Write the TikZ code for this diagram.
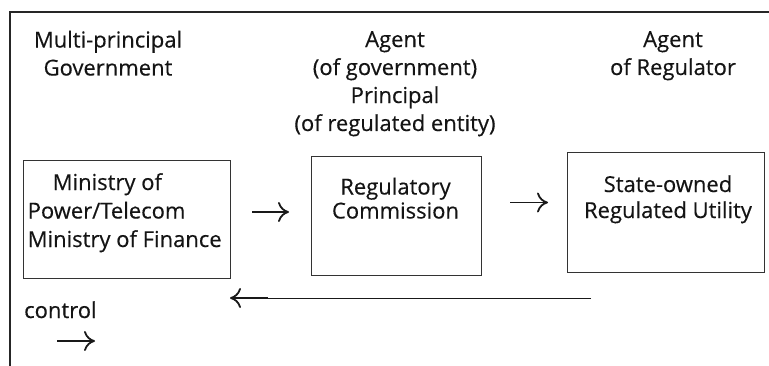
\documentclass[tikz,border=0pt]{standalone}
\usepackage{fontspec}
\setmainfont{Open Sans}
\newfontfamily\lblfont{Open Sans}[FakeBold=0.35]
\usetikzlibrary{arrows.meta,calc}
\begin{document}
\begin{tikzpicture}[x=1pt,y=1pt,
  lbl/.style={font=\lblfont\fontsize{22}{28}\selectfont, inner sep=0pt, text=black!92, align=center, anchor=base},
  boxnode/.style={draw=black!80, line width=1pt, inner sep=0pt, anchor=south west},
  arr/.style={line width=1.8pt, draw=black!90, -{To[length=11pt,width=20pt]}},
]
\useasboundingbox (0,0) rectangle (769,365);
% cropped outer frame
\coordinate (fbl) at (10,-2);
\coordinate (ftl) at (10,353.3);
\coordinate (ftr) at (771,353.3);
\draw[line width=2.2pt, black!85] (fbl) -- (ftl) -- (ftr);

% boxes
\node[boxnode, minimum width=207.3pt, minimum height=118pt] (box1) at (22.7,86) {};
\node[boxnode, minimum width=170.5pt, minimum height=119pt] (box2) at (310.5,89) {};
\node[boxnode, minimum width=197.3pt, minimum height=120pt] (box3) at (566.7,92) {};

% headings (anchor base = baseline of last line)
\node[lbl] (hgov) at (108,289.5) {Multi-principal\\Government};
\node[lbl] (hreg) at (395,234) {Agent\\(of government)\\Principal\\(of regulated entity)};
\node[lbl] (hutil) at (673,290) {Agent\\of Regulator};

% box texts
\node[lbl, align=left, anchor=base west, font=\lblfont\fontsize{22}{28.5}\selectfont] (t1) at (27.5,118) {\hspace*{25pt}Ministry of\\Power/Telecom\\Ministry of Finance};
\node[lbl, font=\lblfont\fontsize{22}{24}\selectfont] (t2) at (395.5,146.5) {Regulatory\\Commission};
\node[lbl, font=\lblfont\fontsize{22}{26}\selectfont] (t3) at (668,147) {State-owned\\Regulated Utility};

% control label
\node[lbl, anchor=base west] (ctl) at (24,47) {control};

% arrows
\draw[arr] ($(box1.east)+(21,7.5)$) -- ($(box2.west)+(-21.5,4)$);
\draw[arr] ($(box2.east)+(28,13.5)$) -- ($(box3.west)+(-18.7,10)$);

\coordinate (ltail) at (591,67);
\coordinate (ljoin) at (268,67);
\coordinate (lhead) at (230,67);
\draw[line width=1pt, black!90] (ltail) -- (ljoin);
\draw[arr] (ljoin) -- (lhead);

\coordinate (c0) at (57,24);
\coordinate (c1) at (95,24);
\draw[arr] (c0) -- (c1);
\end{tikzpicture}
\end{document}
